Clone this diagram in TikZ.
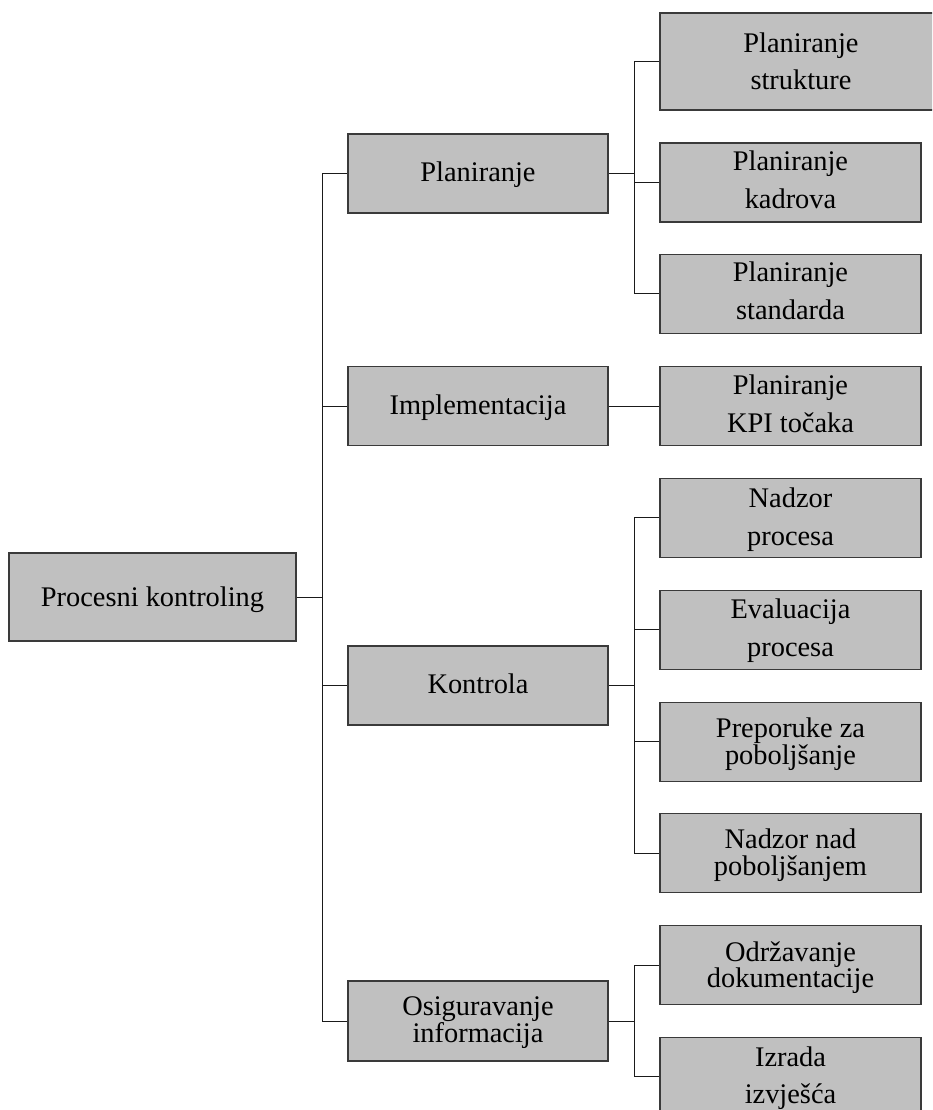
\documentclass[tikz,border=0pt]{standalone}
\usepackage{fontspec}
\setmainfont{Liberation Serif}
\definecolor{boxfill}{HTML}{C0C0C0}
\definecolor{boxline}{HTML}{3A3A3A}
\definecolor{connline}{HTML}{1A1A1A}
\tikzset{
  box/.style={draw=boxline, fill=boxfill, line width=1.3pt, inner sep=0pt, rectangle},
  conn/.style={draw=connline, line width=1pt},
  lbl/.style={align=center, anchor=base, inner sep=0pt, text=black, font=\fontsize{28.4}{38}\selectfont},
  lbltight/.style={lbl, font=\fontsize{28.4}{27}\selectfont},
}
\begin{document}
\begin{tikzpicture}[x=1pt, y=-1pt]
\useasboundingbox (0,0) rectangle (932,1110);
\clip (0,0) rectangle (932,1110);
\fill[white] (0,0) rectangle (932,1110);

% root
\node[box, minimum width=287pt, minimum height=88pt] (root) at (152.5,597) {};
\node[lbl] (rootT) at (152.5,606) {Procesni kontroling};

% level 1
\node[box, minimum width=260pt, minimum height=79pt] (pl) at (478,173.5) {};
\node[lbl] (plT) at (478,181.7) {Planiranje};
\node[box, minimum width=260pt, minimum height=79pt] (im) at (478,406.2) {};
\node[lbl] (imT) at (478,414) {Implementacija};
\node[box, minimum width=260pt, minimum height=79pt] (ko) at (478,685.4) {};
\node[lbl] (koT) at (478,693.5) {Kontrola};
\node[box, minimum width=260pt, minimum height=80pt] (os) at (478,1021) {};
\node[lbltight] (osT) at (478,1042.7) {Osiguravanje\\informacija};

% level 2 (text anchored at the baseline of the last line)
\node[box, minimum width=282pt, minimum height=97pt] (c1) at (801,61.5) {};
\node[lbl, font=\fontsize{28.4}{37}\selectfont] (c1T) at (801,90) {Planiranje\\strukture};
\node[box, minimum width=261pt, minimum height=79pt] (c2) at (790.5,182.5) {};
\node[lbl] (c2T) at (790.5,208.5) {Planiranje\\kadrova};
\node[box, minimum width=261pt, minimum height=79pt] (c3) at (790.5,293.8) {};
\node[lbl] (c3T) at (790.5,319.8) {Planiranje\\standarda};
\node[box, minimum width=261pt, minimum height=79pt] (c4) at (790.5,406.2) {};
\node[lbl] (c4T) at (790.5,432) {Planiranje\\KPI točaka};
\node[box, minimum width=261pt, minimum height=79pt] (c5) at (790.5,517.8) {};
\node[lbl] (c5T) at (790.5,545) {Nadzor\\procesa};
\node[box, minimum width=261pt, minimum height=79pt] (c6) at (790.5,629.7) {};
\node[lbl] (c6T) at (790.5,656.7) {Evaluacija\\procesa};
\node[box, minimum width=261pt, minimum height=79pt] (c7) at (790.5,741.7) {};
\node[lbltight] (c7T) at (790.5,764) {Preporuke za\\poboljšanje};
\node[box, minimum width=261pt, minimum height=79pt] (c8) at (790.5,853.3) {};
\node[lbltight] (c8T) at (790.5,875) {Nadzor nad\\poboljšanjem};
\node[box, minimum width=261pt, minimum height=79pt] (c9) at (790.5,965) {};
\node[lbl, font=\fontsize{28.4}{26}\selectfont] (c9T) at (790.5,987) {Održavanje\\dokumentacije};
\node[box, minimum width=261pt, minimum height=79pt] (c10) at (790.5,1076.7) {};
\node[lbl, font=\fontsize{28.4}{37}\selectfont] (c10T) at (790.5,1103) {Izrada\\izvješća};

% main trunk
\coordinate (ta) at (322,173.5);
\coordinate (tb) at (322,1021);
\draw[conn] (ta) -- (tb);
\draw[conn] (root.east) -- (root.east -| ta);
\draw[conn] (ta) -- (pl.west);
\draw[conn] (im.west -| ta) -- (im.west);
\draw[conn] (ko.west -| ta) -- (ko.west);
\draw[conn] (tb) -- (os.west);

% Planiranje children
\coordinate (pa) at (634,61.5);
\coordinate (pb) at (634,293.8);
\draw[conn] (pa) -- (pb);
\draw[conn] (pl.east) -- (pl.east -| pa);
\draw[conn] (pa) -- (c1.west);
\draw[conn] (c2.west -| pa) -- (c2.west);
\draw[conn] (pb) -- (c3.west);

% Implementacija child
\draw[conn] (im.east) -- (c4.west);

% Kontrola children
\coordinate (ka) at (634,517.8);
\coordinate (kb) at (634,853.3);
\draw[conn] (ka) -- (kb);
\draw[conn] (ko.east) -- (ko.east -| ka);
\draw[conn] (ka) -- (c5.west);
\draw[conn] (c6.west -| ka) -- (c6.west);
\draw[conn] (c7.west -| ka) -- (c7.west);
\draw[conn] (kb) -- (c8.west);

% Osiguravanje children
\coordinate (oa) at (634,965);
\coordinate (ob) at (634,1076.7);
\draw[conn] (oa) -- (ob);
\draw[conn] (os.east) -- (os.east -| oa);
\draw[conn] (oa) -- (c9.west);
\draw[conn] (ob) -- (c10.west);
\end{tikzpicture}
\end{document}
